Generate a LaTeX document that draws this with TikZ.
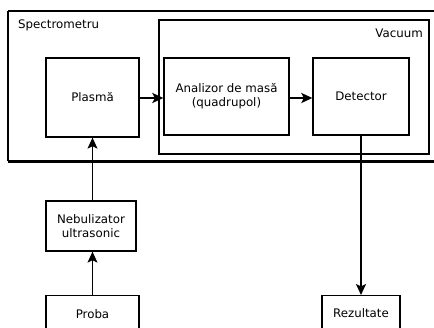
\documentclass[tikz,border=0pt]{standalone}
\usepackage{fontspec}
\setmainfont{DejaVu Sans}
\usetikzlibrary{arrows.meta}
\begin{document}
\begin{tikzpicture}[x=1pt,y=-1pt,
  box/.style={draw,line width=1.3pt,inner sep=0pt,align=center,font=\fontsize{11.8}{14}\selectfont},
  lbl/.style={inner sep=0pt,font=\fontsize{11.8}{14}\selectfont},
  arr/.style={line width=1pt,-{Stealth[length=11pt,width=10pt,inset=2.5pt]}}]
\useasboundingbox (0,0) rectangle (434,327);
\clip (0,0) rectangle (434,327);
% outer box
\draw[line width=1.5pt] (8,11) -- (440,11);
\draw[line width=1.5pt] (8,11) -- (8,161);
\draw[line width=3pt] (8,161) -- (440,161);
\node[lbl,anchor=west] (spec) at (18,25) {Spectrometru};
% vacuum box
\draw[line width=1.6pt] (159,20) rectangle (429,154);
\node[lbl,anchor=east] (vac) at (423,33) {Vacuum};
% inner boxes
\node[box,minimum width=93pt,minimum height=79pt] (pl) at (92.5,97.5) {Plasmă};
\node[box,minimum width=125pt,minimum height=77pt] (an) at (226.5,96.5) {Analizor de masă\\(quadrupol)};
\node[box,minimum width=96pt,minimum height=77pt] (det) at (361,96.5) {Detector};
\node[box,minimum width=90pt,minimum height=50pt] (neb) at (91,226) {Nebulizator\\ultrasonic};
\node[box,minimum width=93pt,minimum height=36pt,anchor=north] (pr) at (92.5,295) {Proba};
\node[box,minimum width=78pt,minimum height=34pt,anchor=north] (rez) at (361,295) {Rezultate};
% connectors
\coordinate (pe) at (pl.east |- 0,98);
\coordinate (aw) at (an.west |- 0,98);
\coordinate (ae) at (an.east |- 0,98);
\coordinate (dw) at (det.west |- 0,98);
\draw[arr,line width=2pt] (pe) -- (aw);
\draw[arr,line width=2pt] (ae) -- (dw);
\draw[arr] (neb.north -| pl.south) -- (pl.south);
\draw[arr] (pr.north) -- (neb.south -| pr.north);
\draw[arr,line width=2pt] (det.south) -- (rez.north);
\end{tikzpicture}
\end{document}
